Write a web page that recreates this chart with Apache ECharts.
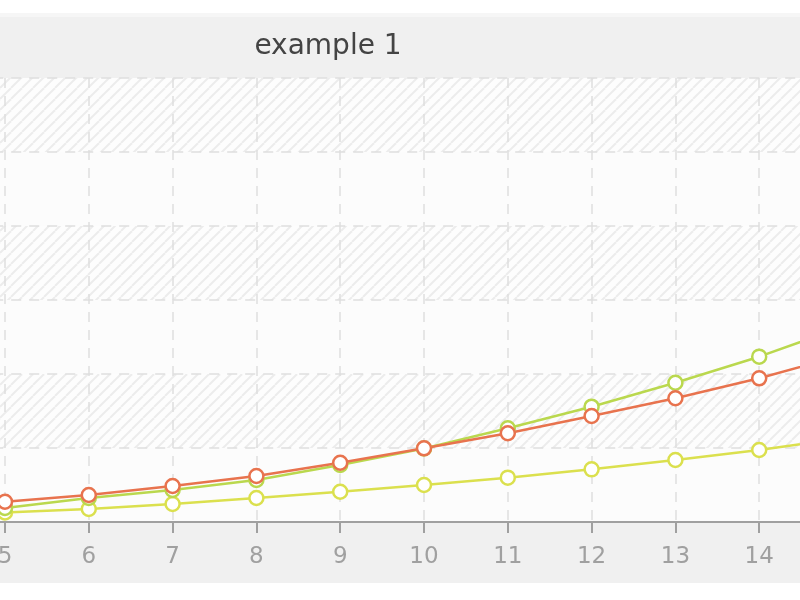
<!DOCTYPE html>
<html>
<head>
<meta charset="utf-8">
<script src="https://cdn.jsdelivr.net/npm/echarts@6/dist/echarts.min.js"></script>
<style>html,body{margin:0;padding:0;background:#fff;}#c{width:800px;height:600px;}</style>
</head>
<body>
<div id="c"></div>
<script>
var titleText = 'example 1';
var xValues = [5, 6, 7, 8, 9, 10, 11, 12, 13, 14, 15];
var yellowValues = [1.28, 1.76, 2.43, 3.24, 4.09, 5.0, 5.99, 7.12, 8.38, 9.73, 11.35];
var greenValues = [1.9, 3.24, 4.32, 5.68, 7.7, 9.93, 12.66, 15.58, 18.82, 22.34, 26.4];
var redValues = [2.74, 3.65, 4.86, 6.22, 8.01, 9.96, 11.99, 14.32, 16.72, 19.42, 22.57];

function pairs(vals) { return xValues.map(function (x, i) { return [x, vals[i]]; }); }

// hatch pattern
var pc = document.createElement('canvas');
var S = 11;
pc.width = S; pc.height = S;
var g = pc.getContext('2d');
g.fillStyle = '#fdfdfd'; g.fillRect(0, 0, S, S);
g.strokeStyle = '#ececec'; g.lineWidth = 2;
[[-S, 0], [0, 0], [S, 0]].forEach(function (o) {
  g.beginPath(); g.moveTo(o[0], S); g.lineTo(o[0] + S, 0); g.stroke();
});

var chart = echarts.init(document.getElementById('c'), null, {renderer: 'canvas'});

function series(name, vals, color) {
  return {
    name: name, type: 'line', data: pairs(vals),
    symbol: 'circle', symbolSize: 14,
    lineStyle: {color: color, width: 2.5},
    itemStyle: {color: '#fff', borderColor: color, borderWidth: 2.5},
    emphasis: {disabled: true},
    clip: true
  };
}

chart.setOption({
  backgroundColor: '#fff',
  animation: false,
  grid: {left: -78.8, right: -43, top: 78, bottom: 78, containLabel: false, outerBoundsMode: 'none'},
  graphic: [
    {type: 'rect', z: -10, shape: {x: 0, y: 13, width: 800, height: 5}, style: {fill: '#f6f6f6'}},
    {type: 'rect', z: -10, shape: {x: 0, y: 17, width: 800, height: 61}, style: {fill: '#f0f0f0'}},
    {type: 'rect', z: -10, shape: {x: 0, y: 522, width: 800, height: 61}, style: {fill: '#f0f0f0'}},
    {type: 'text', z: 10, x: 328, y: 47, style: {text: titleText, fill: '#444', font: '28px "DejaVu Sans"', textAlign: 'center', textVerticalAlign: 'middle'}}
  ],
  xAxis: {
    type: 'value', min: 4, max: 15, interval: 1,
    axisLine: {show: true, lineStyle: {color: '#a0a0a0', width: 2}},
    axisTick: {show: true, length: 11, lineStyle: {color: '#a0a0a0', width: 2}},
    axisLabel: {color: '#a0a0a0', fontSize: 23, fontFamily: 'DejaVu Sans', margin: 24},
    splitLine: {show: true, lineStyle: {color: '#dedede', width: 1.5, type: [10, 8]}}
  },
  yAxis: {
    type: 'value', min: 0, max: 60, interval: 10,
    axisLine: {show: false}, axisTick: {show: false}, axisLabel: {show: false},
    splitLine: {show: true, lineStyle: {color: '#dedede', width: 1.5, type: [10, 8]}},
    splitArea: {show: true, areaStyle: {color: ['#fcfcfc', {image: pc, repeat: 'repeat'}]}}
  },
  series: [
    series('yellow', yellowValues, '#dbe04e'),
    series('green', greenValues, '#bad84e'),
    series('red', redValues, '#e8734e')
  ]
});
</script>
</body>
</html>
